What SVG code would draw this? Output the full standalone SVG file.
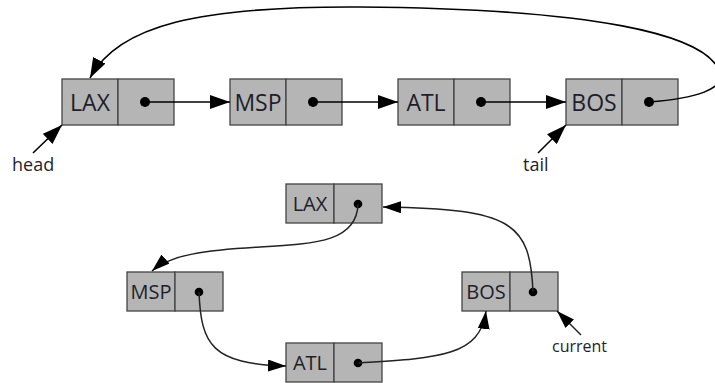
<svg xmlns="http://www.w3.org/2000/svg" width="715" height="383" viewBox="0 0 715 383">
  <style>
    .box { fill: #b5b5b5; stroke: #444; stroke-width: 1.3; }
    .lbl { font-family: "Open Sans", "Noto Sans", sans-serif; fill: #1e1e2c; }
    .big { font-size: 23px; text-anchor: middle; }
    .small { font-size: 20px; text-anchor: middle; }
    .ptr { font-size: 18px; }
    .link { fill: none; stroke: #000; stroke-width: 1.6; }
    .link2 { fill: none; stroke: #222; stroke-width: 1.5; }
  </style>
  <defs>
    <marker id="arrow" viewBox="0 0 20 14" refX="20" refY="7" markerWidth="20" markerHeight="14" markerUnits="userSpaceOnUse" orient="auto">
      <path d="M0,0 L20,7 L0,14 Z" fill="#000"/>
    </marker>
    <marker id="arrowS" viewBox="0 0 18 12" refX="18" refY="6" markerWidth="18" markerHeight="12" markerUnits="userSpaceOnUse" orient="auto">
      <path d="M0,0 L18,6 L0,12 Z" fill="#000"/>
    </marker>
  </defs>

  <!-- upper list: head ... tail, tail pointing back to head -->
  <g id="top-lax">
    <rect class="box" x="62" y="79" width="56" height="46"/>
    <rect class="box" x="118" y="79" width="56" height="46"/>
    <text class="lbl big" x="90" y="111">LAX</text>
    <circle cx="145" cy="102" r="5" fill="#000"/>
  </g>
  <g id="top-msp">
    <rect class="box" x="230" y="79" width="56" height="46"/>
    <rect class="box" x="286" y="79" width="56" height="46"/>
    <text class="lbl big" x="258" y="111">MSP</text>
    <circle cx="313" cy="102" r="5" fill="#000"/>
  </g>
  <g id="top-atl">
    <rect class="box" x="398" y="79" width="56" height="46"/>
    <rect class="box" x="454" y="79" width="56" height="46"/>
    <text class="lbl big" x="426" y="111">ATL</text>
    <circle cx="481" cy="102" r="5" fill="#000"/>
  </g>
  <g id="top-bos">
    <rect class="box" x="566" y="79" width="56" height="46"/>
    <rect class="box" x="622" y="79" width="56" height="46"/>
    <text class="lbl big" x="594" y="111">BOS</text>
    <circle cx="649" cy="102" r="5" fill="#000"/>
  </g>
  <g id="head">
    <text class="lbl ptr" x="12" y="171">head</text>
  </g>
  <g id="tail">
    <text class="lbl ptr" x="523" y="171">tail</text>
  </g>

  <!-- lower list: the same ring drawn as a loop -->
  <g id="ring-lax">
    <rect class="box" x="286" y="184" width="48" height="39"/>
    <rect class="box" x="334" y="184" width="48" height="39"/>
    <text class="lbl small" x="310" y="211">LAX</text>
    <circle cx="358" cy="204" r="4.3" fill="#000"/>
  </g>
  <g id="ring-msp">
    <rect class="box" x="127" y="272" width="48" height="39"/>
    <rect class="box" x="175" y="272" width="48" height="39"/>
    <text class="lbl small" x="151" y="299">MSP</text>
    <circle cx="199" cy="292" r="4.3" fill="#000"/>
  </g>
  <g id="ring-atl">
    <rect class="box" x="286" y="343" width="48" height="39"/>
    <rect class="box" x="334" y="343" width="48" height="39"/>
    <text class="lbl small" x="310" y="370">ATL</text>
    <circle cx="358" cy="363" r="4.3" fill="#000"/>
  </g>
  <g id="ring-bos">
    <rect class="box" x="462" y="272" width="48" height="39"/>
    <rect class="box" x="510" y="272" width="48" height="39"/>
    <text class="lbl small" x="486" y="299">BOS</text>
    <circle cx="533" cy="292" r="4.3" fill="#000"/>
  </g>
  <g id="current">
    <text class="lbl" x="552" y="352" font-size="16">current</text>
  </g>

  <g id="connectors">
    <path class="link" d="M145 102 H230" marker-end="url(#arrow)"/>
    <path class="link" d="M313 102 H398" marker-end="url(#arrow)"/>
    <path class="link" d="M481 102 H566" marker-end="url(#arrow)"/>
    <path class="link" d="M649 102 C690 99 732 90 718 68 C700 35 600 9 360 7 C200 6 118 25 90 78" marker-end="url(#arrow)"/>
    <path class="link" d="M33 153 L62 125" marker-end="url(#arrow)"/>
    <path class="link" d="M538 153 L566 125" marker-end="url(#arrow)"/>

    <path class="link2" d="M358 204 C357 240 320 244 260 247 C205 250 170 255 152 271" marker-end="url(#arrowS)"/>
    <path class="link2" d="M199 292 C201 345 212 364 286 366" marker-end="url(#arrowS)"/>
    <path class="link2" d="M358 363 C440 358 480 356 486 311" marker-end="url(#arrowS)"/>
    <path class="link2" d="M533 292 C530 222 512 209 383 207" marker-end="url(#arrowS)"/>
    <path class="link2" d="M581 335 L557 311" marker-end="url(#arrowS)"/>
  </g>
</svg>
